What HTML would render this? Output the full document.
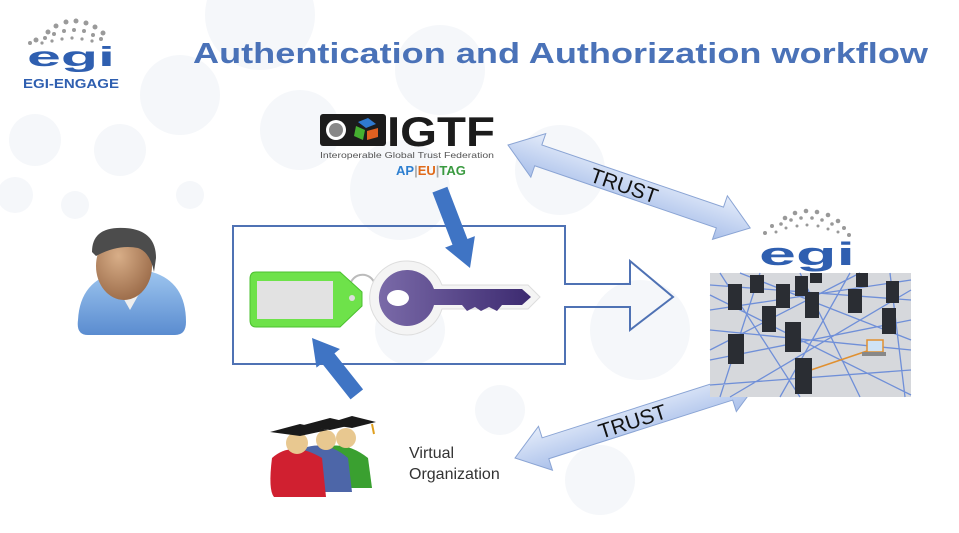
<!DOCTYPE html>
<html><head><meta charset="utf-8"><style>
html,body{margin:0;padding:0;background:#fff;}
body{width:959px;height:533px;overflow:hidden;position:relative;font-family:"Liberation Sans",Arial,sans-serif;}
svg{position:absolute;left:0;top:0;}
</style></head><body>
<svg width="959" height="533" viewBox="0 0 959 533" xmlns="http://www.w3.org/2000/svg">
<defs>
<linearGradient id="tr" x1="0" y1="0" x2="0" y2="1"><stop offset="0" stop-color="#e4ecfa"/><stop offset="1" stop-color="#aac0ea"/></linearGradient>
<linearGradient id="key" x1="0" y1="0" x2="1" y2="0"><stop offset="0" stop-color="#7a6aa8"/><stop offset="1" stop-color="#3c2a70"/></linearGradient>
<linearGradient id="shirt" x1="0" y1="0" x2="0" y2="1"><stop offset="0" stop-color="#9cc4ee"/><stop offset="1" stop-color="#5a8cd0"/></linearGradient>
<radialGradient id="face" cx="0.4" cy="0.35" r="0.7"><stop offset="0" stop-color="#d8ae88"/><stop offset="1" stop-color="#9a6a48"/></radialGradient>
</defs>
<g fill="#f5f7fa">
<circle cx="260" cy="15" r="55"/><circle cx="180" cy="95" r="40"/><circle cx="35" cy="140" r="26"/><circle cx="120" cy="150" r="26"/><circle cx="15" cy="195" r="18"/><circle cx="75" cy="205" r="14"/><circle cx="190" cy="195" r="14"/>
<circle cx="300" cy="130" r="40"/><circle cx="400" cy="190" r="50"/><circle cx="440" cy="70" r="45"/><circle cx="560" cy="170" r="45"/><circle cx="410" cy="330" r="35"/><circle cx="640" cy="330" r="50"/><circle cx="600" cy="480" r="35"/><circle cx="500" cy="410" r="25"/>
</g>
<g fill="#9a9a9a">
<circle cx="48" cy="32" r="2.5"/><circle cx="56" cy="26" r="2.5"/><circle cx="66" cy="22" r="2.5"/><circle cx="76" cy="21" r="2.5"/><circle cx="86" cy="23" r="2.5"/><circle cx="95" cy="27" r="2.5"/><circle cx="103" cy="33" r="2.5"/>
<circle cx="36" cy="40" r="2.5"/><circle cx="45" cy="38" r="2"/><circle cx="54" cy="34" r="2"/><circle cx="64" cy="31" r="2"/><circle cx="74" cy="30" r="2"/><circle cx="84" cy="31" r="2"/><circle cx="93" cy="35" r="2"/><circle cx="101" cy="39" r="2"/>
<circle cx="30" cy="43" r="2"/><circle cx="42" cy="43" r="1.6"/><circle cx="52" cy="41" r="1.6"/><circle cx="62" cy="39" r="1.6"/><circle cx="72" cy="38" r="1.6"/><circle cx="82" cy="39" r="1.6"/><circle cx="92" cy="41" r="1.6"/>
</g>
<text x="27" y="66" font-size="28" font-weight="bold" fill="#2f5fb0" textLength="88" lengthAdjust="spacingAndGlyphs">egi</text>
<text x="23" y="88" font-size="13" font-weight="bold" fill="#2f5fb0" textLength="96" lengthAdjust="spacingAndGlyphs">EGI-ENGAGE</text>
<text x="193" y="63" font-size="28.5" font-weight="bold" fill="#4a72b8" textLength="735" lengthAdjust="spacingAndGlyphs">Authentication and Authorization workflow</text>
<rect x="320" y="114" width="66" height="32" rx="3" fill="#1c1c1c"/>
<circle cx="336" cy="130" r="10" fill="#fff"/><circle cx="336" cy="130" r="7" fill="#888"/>
<polygon points="358,122 368,118 376,124 366,128" fill="#2f7ad0"/><polygon points="356,126 365,130 363,140 354,136" fill="#45b030"/><polygon points="367,131 378,128 378,137 367,140" fill="#e06020"/>
<text x="387" y="146" font-size="42" font-weight="bold" fill="#1c1c1c" textLength="108" lengthAdjust="spacingAndGlyphs">IGTF</text>
<text x="320" y="158" font-size="8.6" fill="#555" textLength="174" lengthAdjust="spacingAndGlyphs">Interoperable Global Trust Federation</text>
<text x="396" y="175" font-size="13" font-weight="bold"><tspan fill="#2d7fd0">AP</tspan><tspan fill="#aaa">|</tspan><tspan fill="#e06a1a">EU</tspan><tspan fill="#aaa">|</tspan><tspan fill="#3a9a40">TAG</tspan></text>
<g transform="translate(508,145) rotate(18.9)">
<polygon points="0,0 32,-23 32,-11 224,-11 224,-23 256,0 224,23 224,11 32,11 32,23" fill="url(#tr)" stroke="#8aa4d4" stroke-width="1"/>
<text x="88" y="8" font-size="21" fill="#111">TRUST</text>
</g>
<g transform="translate(515,458) rotate(-17.7)">
<polygon points="0,0 32,-23 32,-11 225,-11 225,-23 257,0 225,23 225,11 32,11 32,23" fill="url(#tr)" stroke="#8aa4d4" stroke-width="1"/>
<text x="88" y="8" font-size="21" fill="#111">TRUST</text>
</g>
<polygon points="233,226 565,226 565,284 630,284 630,261 673,297 630,330 630,307 565,307 565,364 233,364" fill="none" stroke="#4f72b4" stroke-width="2"/>
<path d="M350,290 A12,12 0 1 1 375,285" fill="none" stroke="#bbb" stroke-width="2"/>
<path d="M256,272 L340,272 L362,292 L362,306 L340,327 L256,327 Q250,327 250,320 L250,279 Q250,272 256,272Z" fill="#6ee24a" stroke="#4cc030" stroke-width="1"/>
<rect x="257" y="281" width="76" height="38" fill="#e2e2e2"/>
<circle cx="352" cy="298" r="3" fill="#ddd"/>
<!-- key -->
<path d="M408,261 a37,37 0 0 1 34,24 l86,0 l12,12 l-12,12 l-86,0 a37,37 0 1 1 -34,-48Z" fill="#f4f4f4" stroke="#ddd"/>
<path d="M408,270 a28,28 0 0 1 26,19 l88,0 l9,8 l-9,8 l-20,0 l-5,6 l-8,-4 l-8,4 l-6,-4 l-8,4 l-5,-6 l-28,0 a28,28 0 1 1 -26,-35Z" fill="url(#key)"/>
<ellipse cx="398" cy="298" rx="11" ry="8" fill="#fff"/>
<!-- blue arrows -->
<g transform="translate(470,268) rotate(69)">
<polygon points="0,0 -28,-16 -28,-8 -84,-8 -84,8 -28,8 -28,16" fill="#3f74c4"/>
</g>
<g transform="translate(312,338) rotate(231.5)">
<polygon points="0,0 -26,-15 -26,-8 -72,-8 -72,8 -26,8 -26,15" fill="#3f74c4"/>
</g>
<!-- person -->
<path d="M78,320 Q80,280 118,272 L152,272 Q186,282 186,322 Q186,335 175,335 L88,335 Q76,335 78,320Z" fill="url(#shirt)"/>
<polygon points="112,278 130,310 148,278" fill="#eee"/>
<ellipse cx="124" cy="266" rx="28" ry="34" fill="url(#face)"/>
<path d="M92,252 Q92,226 125,228 Q156,230 156,258 L154,272 Q150,252 138,248 Q118,244 96,256Z" fill="#4c4c4c"/>
<!-- EGI right -->
<g fill="#999">
<circle cx="785" cy="218" r="2.3"/><circle cx="795" cy="213" r="2.3"/><circle cx="806" cy="211" r="2.3"/><circle cx="817" cy="212" r="2.3"/><circle cx="828" cy="215" r="2.3"/><circle cx="838" cy="221" r="2.3"/>
<circle cx="772" cy="226" r="2"/><circle cx="781" cy="224" r="1.8"/><circle cx="791" cy="220" r="1.8"/><circle cx="801" cy="218" r="1.8"/><circle cx="812" cy="218" r="1.8"/><circle cx="822" cy="220" r="1.8"/><circle cx="832" cy="224" r="1.8"/><circle cx="844" cy="228" r="2"/>
<circle cx="765" cy="233" r="2"/><circle cx="776" cy="232" r="1.5"/><circle cx="786" cy="228" r="1.5"/><circle cx="797" cy="226" r="1.5"/><circle cx="807" cy="225" r="1.5"/><circle cx="818" cy="226" r="1.5"/><circle cx="828" cy="229" r="1.5"/><circle cx="838" cy="232" r="1.5"/><circle cx="849" cy="235" r="2"/>
</g>
<text x="759" y="265" font-size="32" font-weight="bold" fill="#2f5fb0" textLength="96" lengthAdjust="spacingAndGlyphs">egi</text>
<rect x="710" y="273" width="201" height="124" fill="#d6d8dc"/>
<g stroke="#6f8fd8" stroke-width="1.3" fill="none">
<path d="M710,285 L911,300 M710,310 L911,280 M710,330 L911,350 M710,360 L911,320 M710,385 L911,370 M720,273 L800,397 M760,273 L720,397 M800,273 L860,397 M850,273 L780,397 M890,273 L905,397 M710,295 L911,395 M730,397 L911,290 M740,273 L911,340 M710,350 L860,273"/>
</g>
<path d="M805,372 L870,350" stroke="#e09030" stroke-width="1.5"/>
<g fill="#2a2d33">
<rect x="728" y="284" width="14" height="26"/><rect x="750" y="275" width="14" height="18"/><rect x="776" y="284" width="14" height="24"/><rect x="795" y="276" width="13" height="20"/><rect x="810" y="273" width="12" height="10"/><rect x="805" y="292" width="14" height="26"/><rect x="848" y="289" width="14" height="24"/><rect x="886" y="281" width="13" height="22"/><rect x="856" y="273" width="12" height="14"/>
<rect x="762" y="306" width="14" height="26"/><rect x="882" y="308" width="14" height="26"/><rect x="785" y="322" width="16" height="30"/><rect x="728" y="334" width="16" height="30"/><rect x="795" y="358" width="17" height="36"/>
</g>
<rect x="867" y="340" width="16" height="12" fill="#cfe3f5" stroke="#e09030" stroke-width="1.5"/>
<rect x="862" y="352" width="24" height="4" fill="#888"/>
<!-- VO -->
<g>
<path d="M322,448 Q345,440 368,458 L372,488 L326,488Z" fill="#3aa030"/>
<circle cx="346" cy="438" r="10" fill="#e8c890"/>
<path d="M304,448 Q327,440 348,458 L352,492 L306,492Z" fill="#4d66a8"/>
<circle cx="326" cy="440" r="10" fill="#e8c890"/>
<path d="M272,458 Q292,440 322,458 L326,497 L274,497 Q268,490 272,458Z" fill="#d02030"/>
<circle cx="297" cy="443" r="11" fill="#e8c890"/>
<polygon points="270,432 300,424 328,430 300,436" fill="#1a1a1a"/>
<polygon points="300,426 330,418 356,424 330,430" fill="#1a1a1a"/>
<polygon points="326,424 352,416 376,422 352,428" fill="#1a1a1a"/>
<path d="M372,424 L374,434" stroke="#e0a020" stroke-width="2"/>
</g>
<text x="409" y="458" font-size="16" fill="#333">Virtual</text>
<text x="409" y="479" font-size="16" fill="#333">Organization</text>
</svg>
</body></html>
